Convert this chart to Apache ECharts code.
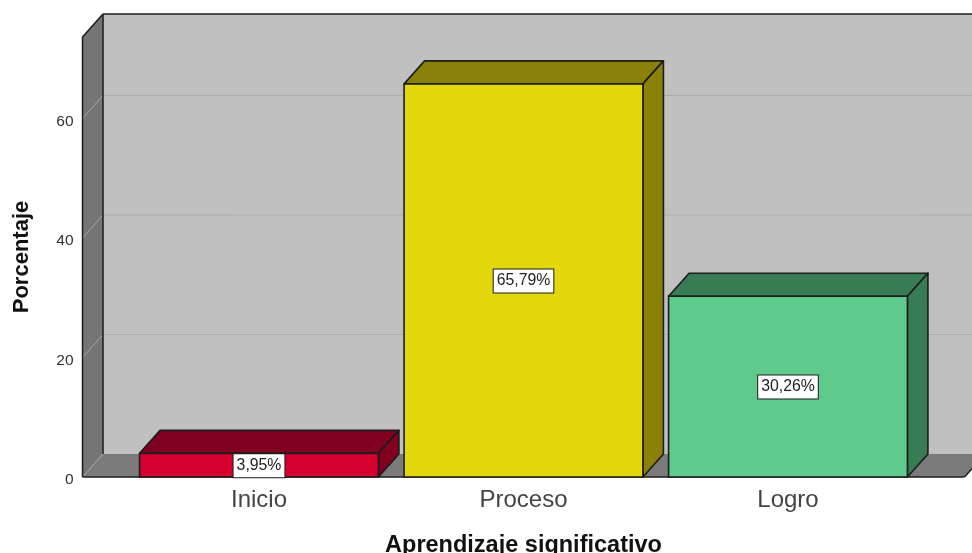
<!DOCTYPE html>
<html>
<head>
<meta charset="utf-8">
<style>html,body{margin:0;padding:0;background:#fff}#c{width:972px;height:553px}</style>
<script src="https://cdn.jsdelivr.net/npm/echarts@6/dist/echarts.min.js"></script>
</head>
<body>
<div id="c"></div>
<script>
const categories = ['Inicio', 'Proceso', 'Logro'];
const percentages = [3.95, 65.79, 30.26];
const yTicks = [0, 20, 40, 60];
const frontColors = ['#d6002f', '#e3d80c', '#5ecb8c'];
const depthColors = ['#82001f', '#8a8208', '#387c56'];
const xAxisTitle = 'Aprendizaje significativo';
const yAxisTitle = 'Porcentaje';

const DX = 20.5, DY = 23, SIDE = 44.25, EDGE = '#1c1c1c', FONT = '"Liberation Sans", Arial, sans-serif';

function poly(points, fill, stroke, lw) {
  return { type: 'polygon', shape: { points }, style: { fill, stroke: stroke || 'none', lineWidth: lw || 0, lineJoin: 'round' } };
}
function seg(x1, y1, x2, y2, stroke, lw) {
  return { type: 'line', shape: { x1, y1, x2, y2 }, style: { stroke, lineWidth: lw, fill: 'none' } };
}

function renderFrame(params, api) {
  const cs = params.coordSys;
  const L = cs.x - SIDE, R = cs.x + cs.width + SIDE, T = cs.y, B = cs.y + cs.height;
  const kids = [];
  kids.push(poly([[L + DX, T - DY], [R + DX, T - DY], [R + DX, B - DY], [L + DX, B - DY]], '#c0c0c0'));
  kids.push(poly([[L, T], [L + DX, T - DY], [L + DX, B - DY], [L, B]], '#757575'));
  kids.push(poly([[L, B], [L + DX, B - DY], [R + DX, B - DY], [R, B]], '#7b7b7b'));
  yTicks.forEach(t => {
    const y = api.coord([0, t])[1];
    kids.push(seg(L, y, L + DX, y - DY, '#a6a6a6', 1));
    if (t > 0) kids.push(seg(L + DX, y - DY, R + DX, y - DY, '#adadad', 1));
  });
  kids.push(seg(L, T, L + DX, T - DY, EDGE, 1.5));
  kids.push(seg(L + DX, T - DY, R + DX, T - DY, EDGE, 1.5));
  kids.push(seg(L, T, L, B, EDGE, 1.5));
  kids.push(seg(L + DX, T - DY, L + DX, B - DY, EDGE, 1.5));
  kids.push(seg(L, B, R, B, EDGE, 1.5));
  kids.push(seg(R, B, R + DX, B - DY, EDGE, 1.5));
  return { type: 'group', children: kids };
}

function renderBar(params, api) {
  const i = api.value(0), v = api.value(1);
  const top = api.coord([i, v]), base = api.coord([i, 0]);
  const w = api.size([1, 0])[0] * 0.903;
  const x0 = top[0] - w / 2, x1 = top[0] + w / 2, yT = top[1], yB = base[1];
  const text = v.toFixed(2).replace('.', ',') + '%';
  return {
    type: 'group',
    children: [
      poly([[x0, yT], [x0 + DX, yT - DY], [x1 + DX, yT - DY], [x1, yT]], depthColors[i], EDGE, 1.6),
      poly([[x1, yT], [x1 + DX, yT - DY], [x1 + DX, yB - DY], [x1, yB]], depthColors[i], EDGE, 1.6),
      { type: 'rect', shape: { x: x0, y: yT, width: w, height: yB - yT }, style: { fill: frontColors[i], stroke: EDGE, lineWidth: 1.6 } },
      {
        type: 'text', x: top[0], y: (yT + yB) / 2 + 0.5,
        style: {
          text, font: '15.8px ' + FONT, fill: '#222', align: 'center', verticalAlign: 'middle',
          backgroundColor: '#fff', borderColor: EDGE, borderWidth: 1, padding: [4, 3, 3, 3]
        }
      }
    ]
  };
}

const chart = echarts.init(document.getElementById('c'), null, { renderer: 'canvas' });
chart.setOption({
  animation: false,
  backgroundColor: '#fff',
  grid: { left: 126.75, top: 37, width: 793.5, height: 440, outerBoundsMode: 'none' },
  xAxis: {
    type: 'category', data: categories,
    axisLine: { show: false }, axisTick: { show: false },
    axisLabel: { fontSize: 24, fontFamily: FONT, color: '#444', margin: 11 },
    name: xAxisTitle, nameLocation: 'middle', nameGap: 57,
    nameTextStyle: { fontSize: 23.5, fontWeight: 'bold', fontFamily: FONT, color: '#111' }
  },
  yAxis: {
    type: 'value', min: 0, max: 73.64, interval: 20, offset: 44.25,
    axisLine: { show: false }, axisTick: { show: false }, splitLine: { show: false },
    axisLabel: {
      fontSize: 15.5, fontFamily: FONT, color: '#333', margin: 9, showMaxLabel: false,
      formatter: '{n|{value}}',
      rich: { n: { fontSize: 15.5, fontFamily: FONT, color: '#333', padding: [6, 0, 0, 0] } }
    },
    name: yAxisTitle, nameLocation: 'middle', nameGap: 50,
    nameTextStyle: { fontSize: 22, fontWeight: 'bold', fontFamily: FONT, color: '#111' }
  },
  series: [
    { type: 'custom', z: 1, silent: true, renderItem: renderFrame, data: [[0, 0]], encode: { x: 0, y: 1 } },
    { type: 'custom', z: 2, silent: true, renderItem: renderBar,
      data: percentages.map((v, i) => [i, v]), encode: { x: 0, y: 1 } }
  ]
});
</script>
</body>
</html>
